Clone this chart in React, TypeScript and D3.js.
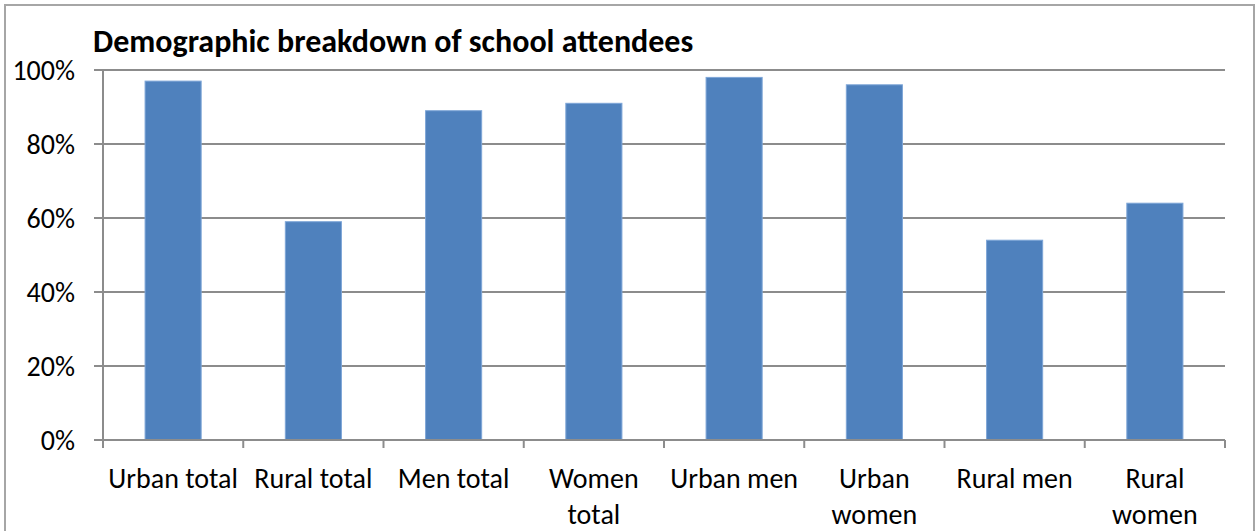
import React from "react";
import * as d3 from "d3";

// Share of each group attending school
const categories = [
  "Urban total",
  "Rural total",
  "Men total",
  "Women total",
  "Urban men",
  "Urban women",
  "Rural men",
  "Rural women",
];
const attendance = [97, 59, 89, 91, 98, 96, 54, 64];
// Axis label lines (long names break onto two lines)
const tickLabels = [
  ["Urban total"],
  ["Rural total"],
  ["Men total"],
  ["Women", "total"],
  ["Urban men"],
  ["Urban", "women"],
  ["Rural men"],
  ["Rural", "women"],
];
const yTicks = [0, 20, 40, 60, 80, 100];
const title = "Demographic breakdown of school attendees";

const W = 1256;
const H = 531;
const plot = { left: 103, right: 1225, top: 70, bottom: 440 };
const FONT = "Carlito, Lato, 'Open Sans', sans-serif";
const GRID = "#8c8c8c";

export default function App() {
  const x = d3
    .scaleBand<string>()
    .domain(categories)
    .range([plot.left, plot.right])
    .paddingInner(0.6)
    .paddingOuter(0.3);
  const xTickPos = d3
    .scaleBand<string>()
    .domain(categories)
    .range([plot.left, plot.right]);
  const y = d3.scaleLinear().domain([0, 100]).range([plot.bottom, plot.top]);

  return (
    <svg
      width={W}
      height={H}
      style={{ position: "absolute", left: 0, top: 0, background: "#fff" }}
      fontFamily={FONT}
    >
      <rect x={5} y={5} width={1249} height={540} fill="#fff" stroke="#a6a6a6" strokeWidth={2} />
      <text x={93} y={52} fontSize={32} fontWeight="bold" fill="#000">
        {title}
      </text>

      {/* horizontal gridlines and y ticks */}
      {yTicks.map((t) => (
        <g key={t}>
          <line
            x1={plot.left - 9}
            x2={plot.right}
            y1={y(t)}
            y2={y(t)}
            stroke={GRID}
            strokeWidth={2}
          />
          <text
            x={75}
            y={y(t)}
            dy="0.35em"
            textAnchor="end"
            fontSize={28}
            fill="#000"
          >
            {`${t}%`}
          </text>
        </g>
      ))}

      {/* bars */}
      {categories.map((c, i) => (
        <rect
          key={c}
          x={x(c)}
          y={y(attendance[i])}
          width={x.bandwidth()}
          height={y(0) - y(attendance[i])}
          fill="#4f81bd"
          stroke="#7ea6d8"
          strokeWidth={1}
        />
      ))}

      {/* axes */}
      <line x1={plot.left} x2={plot.left} y1={plot.top} y2={plot.bottom} stroke={GRID} strokeWidth={2} />
      <line x1={plot.left} x2={plot.right} y1={plot.bottom} y2={plot.bottom} stroke={GRID} strokeWidth={2} />
      {[...categories.map((c) => xTickPos(c) as number), plot.right].map((tx, i) => (
        <line key={i} x1={tx} x2={tx} y1={plot.bottom} y2={plot.bottom + 8} stroke={GRID} strokeWidth={2} />
      ))}

      {/* category labels */}
      {categories.map((c, i) => (
        <text
          key={c}
          x={(xTickPos(c) as number) + xTickPos.bandwidth() / 2}
          y={488}
          textAnchor="middle"
          fontSize={28}
          fill="#000"
        >
          {tickLabels[i].map((line, j) => (
            <tspan key={j} x={(xTickPos(c) as number) + xTickPos.bandwidth() / 2} dy={j === 0 ? 0 : 36}>
              {line}
            </tspan>
          ))}
        </text>
      ))}
    </svg>
  );
}
